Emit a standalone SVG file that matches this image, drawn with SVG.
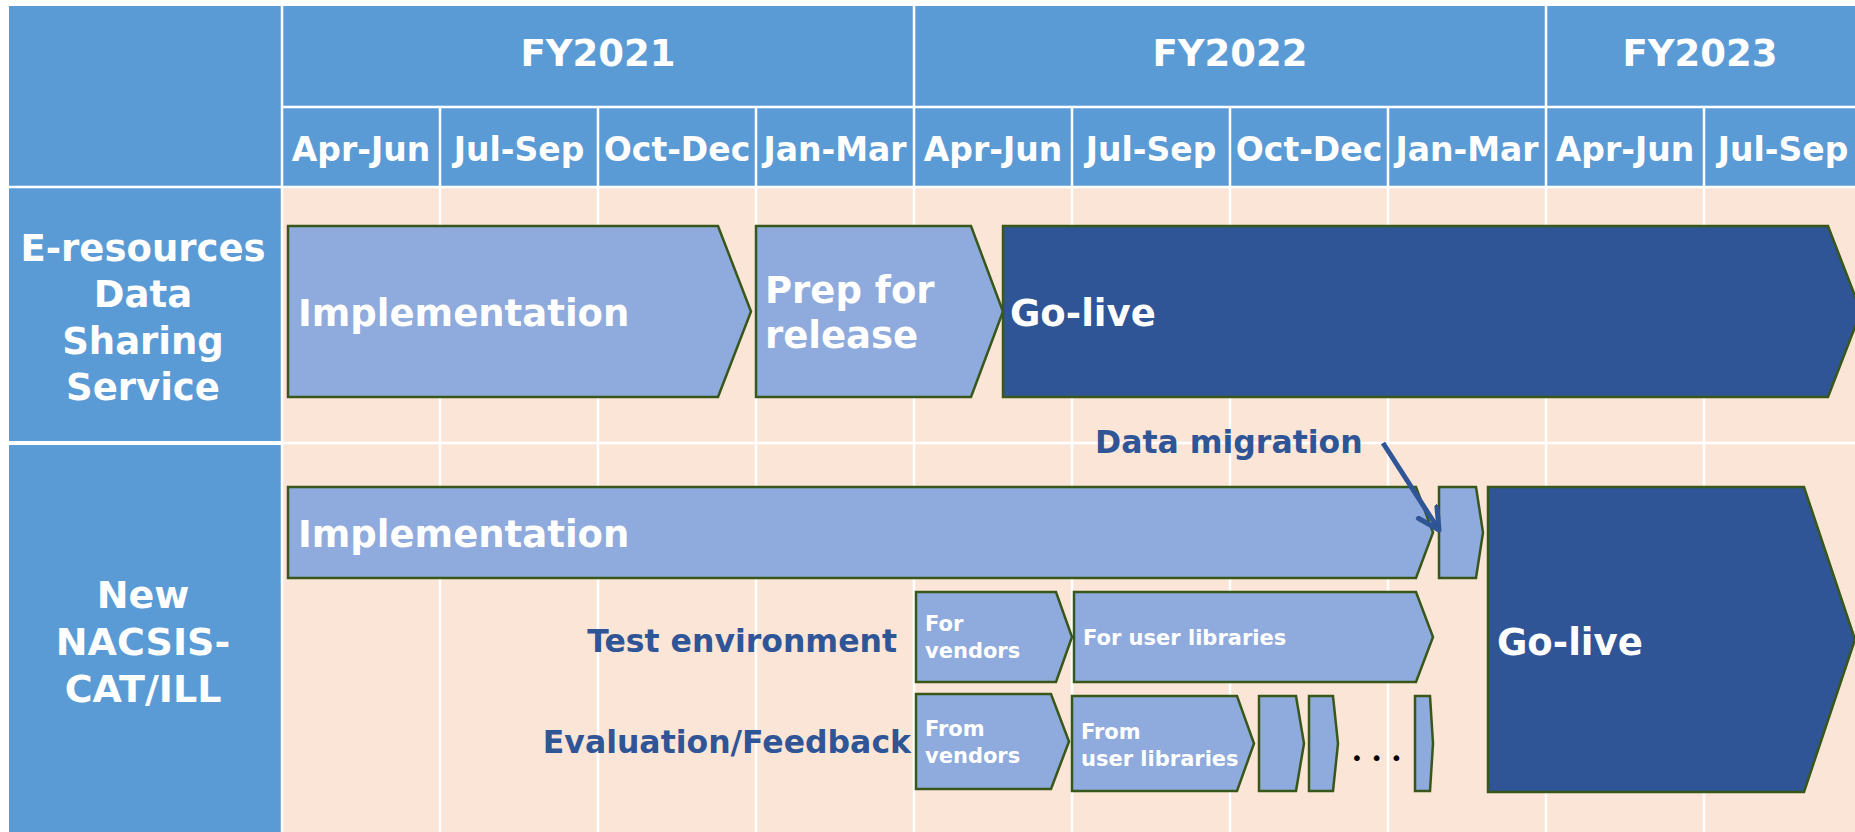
<svg xmlns="http://www.w3.org/2000/svg" width="1855" height="832" viewBox="0 0 1855 832">
<defs>
<style>
.hdr{fill:#5B9BD5}
.cell{fill:#FBE5D6}
.grid{stroke:#FFFFFF;stroke-width:2.5}
.t{font-family:"DejaVu Sans","Verdana",sans-serif;font-weight:bold}
.w{fill:#FFFFFF}
.b{fill:#2F5597}
.bar{fill:#8FAADC;stroke:#38571A;stroke-width:2.5;stroke-linejoin:miter}
.dark{fill:#2F5597;stroke:#38571A;stroke-width:2.5}
.fy{font-size:37px}
.q{font-size:33px}
.big{font-size:37px}
.sm{font-size:21px}
.lbl{font-size:31.5px}
</style>
<marker id="ah" markerUnits="userSpaceOnUse" markerWidth="26" markerHeight="26" viewBox="0 0 26 26" refX="23" refY="12" orient="auto">
<path d="M2,1 L23,12 L2,23" fill="none" stroke="#2F5597" stroke-width="5" stroke-linecap="round" stroke-linejoin="round"/>
</marker>
</defs>
<rect width="1855" height="832" fill="#FFFFFF"/>
<g id="table">
<rect class="hdr" x="9" y="6" width="273" height="180"/>
<rect class="hdr" x="283" y="6" width="631" height="100"/>
<rect class="hdr" x="915" y="6" width="631" height="100"/>
<rect class="hdr" x="1547" y="6" width="308" height="100"/>
<rect class="hdr" x="283" y="108" width="1572" height="78"/>
<rect class="hdr" x="9" y="188" width="273" height="253"/>
<rect class="hdr" x="9" y="445" width="273" height="387"/>
<rect class="cell" x="283" y="188" width="1572" height="644"/>
<g class="grid">
<line x1="440" y1="107" x2="440" y2="832"/>
<line x1="598" y1="107" x2="598" y2="832"/>
<line x1="756" y1="107" x2="756" y2="832"/>
<line x1="914" y1="6" x2="914" y2="832"/>
<line x1="1072" y1="107" x2="1072" y2="832"/>
<line x1="1230" y1="107" x2="1230" y2="832"/>
<line x1="1388" y1="107" x2="1388" y2="832"/>
<line x1="1546" y1="6" x2="1546" y2="832"/>
<line x1="1704" y1="107" x2="1704" y2="832"/>
<line x1="282" y1="6" x2="282" y2="832"/>
<line x1="282" y1="107" x2="1855" y2="107"/>
<line x1="9" y1="187" x2="1855" y2="187"/>
<line x1="9" y1="443" x2="1855" y2="443"/>
</g>
<g class="t w fy" text-anchor="middle">
<text x="598" y="66">FY2021</text>
<text x="1230" y="66">FY2022</text>
<text x="1700" y="66">FY2023</text>
</g>
<g class="t w q" text-anchor="middle">
<text x="361" y="161">Apr-Jun</text>
<text x="519" y="161">Jul-Sep</text>
<text x="677" y="161">Oct-Dec</text>
<text x="835" y="161">Jan-Mar</text>
<text x="993" y="161">Apr-Jun</text>
<text x="1151" y="161">Jul-Sep</text>
<text x="1309" y="161">Oct-Dec</text>
<text x="1467" y="161">Jan-Mar</text>
<text x="1625" y="161">Apr-Jun</text>
<text x="1783" y="161">Jul-Sep</text>
</g>
</g>
<g id="row-eresources" class="t w" text-anchor="middle" font-size="37">
<text x="143" y="261">E-resources</text>
<text x="143" y="307">Data</text>
<text x="143" y="354">Sharing</text>
<text x="143" y="400">Service</text>
</g>
<g id="row-nacsis" class="t w" text-anchor="middle" font-size="38">
<text x="143" y="608">New</text>
<text x="143" y="655">NACSIS-</text>
<text x="143" y="702">CAT/ILL</text>
</g>
<g id="er-implementation">
<polygon class="bar" points="288,226 718,226 751,311.5 718,397 288,397"/>
<text class="t w big" x="298" y="326">Implementation</text>
</g>
<g id="er-prep">
<polygon class="bar" points="756,226 971,226 1003,311.5 971,397 756,397"/>
<text class="t w big" x="765" y="303">Prep for</text>
<text class="t w big" x="765" y="348">release</text>
</g>
<g id="er-golive">
<polygon class="dark" points="1003,226 1828,226 1861,311.5 1828,397 1003,397"/>
<text class="t w big" x="1010" y="326">Go-live</text>
</g>
<g id="nc-implementation">
<polygon class="bar" points="288,487 1416,487 1433,532.5 1416,578 288,578"/>
<text class="t w big" x="298" y="547">Implementation</text>
</g>
<g id="nc-migration">
<polygon class="bar" points="1439,487 1476,487 1483,532.5 1476,578 1439,578"/>
</g>
<g id="nc-migration-label">
<text class="t b lbl" x="1095" y="453">Data migration</text>
</g>
<g id="nc-golive">
<polygon class="dark" points="1488,487 1804,487 1855,639.5 1804,792 1488,792"/>
<text class="t w big" x="1497" y="655">Go-live</text>
</g>
<g id="nc-test-label">
<text class="t b lbl" x="897" y="652" text-anchor="end">Test environment</text>
</g>
<g id="nc-eval-label">
<text class="t b lbl" x="911" y="753" text-anchor="end">Evaluation/Feedback</text>
</g>
<g id="test-vendors">
<polygon class="bar" points="916,592 1056,592 1072,637 1056,682 916,682"/>
<text class="t w sm" x="925" y="631">For</text>
<text class="t w sm" x="925" y="658">vendors</text>
</g>
<g id="test-libraries">
<polygon class="bar" points="1074,592 1416,592 1433,637 1416,682 1074,682"/>
<text class="t w sm" x="1083" y="645">For user libraries</text>
</g>
<g id="eval-vendors">
<polygon class="bar" points="916,694 1051,694 1069,741.5 1051,789 916,789"/>
<text class="t w sm" x="925" y="736">From</text>
<text class="t w sm" x="925" y="763">vendors</text>
</g>
<g id="eval-libraries">
<polygon class="bar" points="1072,696 1237,696 1254,743.5 1237,791 1072,791"/>
<text class="t w sm" x="1081" y="739">From</text>
<text class="t w sm" x="1081" y="766">user libraries</text>
</g>
<g id="eval-step1">
<polygon class="bar" points="1259,696 1296,696 1304,743.5 1296,791 1259,791"/>
</g>
<g id="eval-step2">
<polygon class="bar" points="1309,696 1333,696 1338,743.5 1333,791 1309,791"/>
</g>
<g id="eval-dots">
<text x="1351" y="765" font-family="DejaVu Sans, sans-serif" font-size="20" letter-spacing="8" fill="#000000">•••</text>
</g>
<g id="eval-step3">
<polygon class="bar" points="1415,696 1430,696 1433,743.5 1430,791 1415,791"/>
</g>
<g id="connectors">
<line x1="1383" y1="443" x2="1439" y2="530" stroke="#2F5597" stroke-width="5" marker-end="url(#ah)"/>
</g>
</svg>
